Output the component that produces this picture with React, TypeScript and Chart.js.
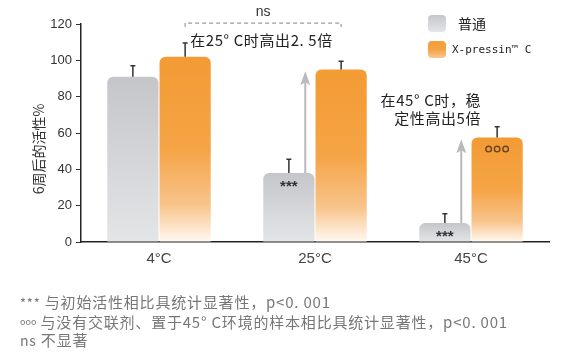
import React, { useEffect, useRef } from 'react';
import { Chart, registerables } from 'chart.js';

Chart.register(...registerables);

const categories = ['4°C', '25°C', '45°C'];
const seriesNames = ['普通', 'X-pressin™ C'];
const normalValues = [91, 38, 10.5];
const normalErrors = [6, 7.5, 5];
const xpressinValues = [102, 95, 57.5];
const xpressinErrors = [7.5, 4.5, 6];
const yTicks = [0, 20, 40, 60, 80, 100, 120];
const yTitle = '6周后的活性%';
const note25 = '在25° C时高出2. 5倍';
const note45a = '在45° C时，稳';
const note45b = '定性高出5倍';
const footnotes = [
  ['***', ' 与初始活性相比具统计显著性，p<0. 001'],
  ['ooo', ' 与没有交联剂、置于45° C环境的样本相比具统计显著性，p<0. 001'],
  ['ns', ' 不显著'],
];

const CJK = '"Noto Sans CJK SC", "Noto Sans", sans-serif';
const SANS = '"Liberation Sans", Arial, sans-serif';

function grayGradient(ctx: CanvasRenderingContext2D, top: number, bottom: number) {
  const g = ctx.createLinearGradient(0, top, 0, bottom);
  g.addColorStop(0, '#c4c6c9');
  g.addColorStop(1, '#e4e5e7');
  return g;
}
function orangeGradient(ctx: CanvasRenderingContext2D, top: number, bottom: number) {
  const g = ctx.createLinearGradient(0, top, 0, bottom);
  g.addColorStop(0, '#f39b34');
  g.addColorStop(0.5, '#f5a446');
  g.addColorStop(0.8, '#f8c48b');
  g.addColorStop(1, '#fff9f2');
  return g;
}

const overlayPlugin = {
  id: 'overlay',
  afterDatasetsDraw(chart: any) {
    const ctx: CanvasRenderingContext2D = chart.ctx;
    const ys = chart.scales.y;
    const gray = chart.getDatasetMeta(0).data;
    const orange = chart.getDatasetMeta(1).data;
    ctx.save();

    // arrows
    [1, 2].forEach((i) => {
      const g = gray[i];
      const ax = g.x + g.width * 0.32;
      const y0 = g.y;
      const y1 = ys.getPixelForValue(xpressinValues[i] - 1);
      ctx.strokeStyle = '#b9b9bc';
      ctx.lineWidth = 2;
      ctx.beginPath();
      ctx.moveTo(ax, y0);
      ctx.lineTo(ax, y1 + 10);
      ctx.stroke();
      ctx.fillStyle = '#b9b9bc';
      ctx.beginPath();
      ctx.moveTo(ax, y1);
      ctx.lineTo(ax + 5, y1 + 14);
      ctx.lineTo(ax, y1 + 11);
      ctx.lineTo(ax - 5, y1 + 14);
      ctx.closePath();
      ctx.fill();
    });

    // error bars
    const drawErr = (els: any[], vals: number[], errs: number[]) => {
      els.forEach((el, i) => {
        const top = ys.getPixelForValue(vals[i] + errs[i]);
        ctx.strokeStyle = '#333';
        ctx.lineWidth = 1.5;
        ctx.beginPath();
        ctx.moveTo(el.x, el.y);
        ctx.lineTo(el.x, top);
        ctx.moveTo(el.x - 2.5, top);
        ctx.lineTo(el.x + 2.5, top);
        ctx.stroke();
      });
    };
    drawErr(gray, normalValues, normalErrors);
    drawErr(orange, xpressinValues, xpressinErrors);

    // *** markers in gray bars
    ctx.fillStyle = '#333';
    ctx.font = `bold 15px ${SANS}`;
    ctx.textAlign = 'center';
    ctx.textBaseline = 'middle';
    [1, 2].forEach((i) => {
      const g = gray[i];
      ctx.fillText('***', g.x, g.y + 14);
    });

    // ooo in orange 45
    const o = orange[2];
    ctx.strokeStyle = '#6b4420';
    ctx.lineWidth = 1.4;
    [-8.5, 0, 8.5].forEach((dx) => {
      ctx.beginPath();
      ctx.arc(o.x + dx, o.y + 11.5, 2.8, 0, Math.PI * 2);
      ctx.stroke();
    });

    // ns bracket
    const bx0 = orange[0].x;
    const bx1 = orange[1].x;
    const by = ys.getPixelForValue(120.5);
    ctx.strokeStyle = '#9a9a9a';
    ctx.lineWidth = 1.2;
    ctx.setLineDash([4, 3]);
    ctx.beginPath();
    ctx.moveTo(bx0, by + 4);
    ctx.lineTo(bx0, by);
    ctx.lineTo(bx1, by);
    ctx.lineTo(bx1, by + 4);
    ctx.stroke();
    ctx.setLineDash([]);
    ctx.fillStyle = '#333';
    ctx.font = `14px ${SANS}`;
    ctx.textAlign = 'center';
    ctx.textBaseline = 'middle';
    ctx.fillText('ns', (bx0 + bx1) / 2, by - 11);

    // annotations
    ctx.fillStyle = '#222';
    ctx.font = `15px ${CJK}`;
    (ctx as any).letterSpacing = '0.6px';
    ctx.textAlign = 'left';
    ctx.fillText(note25, bx0 + 5, ys.getPixelForValue(111));
    ctx.textAlign = 'right';
    ctx.fillText(note45a, o.x - 16, ys.getPixelForValue(78));
    ctx.fillText(note45b, o.x - 16, ys.getPixelForValue(68));
    (ctx as any).letterSpacing = '0px';

    // y title
    ctx.save();
    ctx.translate(39, (chart.chartArea.top + chart.chartArea.bottom) / 2 + 16);
    ctx.rotate(-Math.PI / 2);
    ctx.textAlign = 'center';
    ctx.textBaseline = 'middle';
    ctx.fillStyle = '#333';
    ctx.font = `14px ${CJK}`;
    ctx.fillText(yTitle, 0, 0);
    ctx.restore();

    // legend
    const lx = 428;
    const items = [
      { y: 15, grad: grayGradient(ctx, 15, 32), font: `14px ${CJK}`, tx: 458 },
      { y: 41, grad: orangeGradient(ctx, 38, 62), font: `11px "DejaVu Sans Mono", monospace`, tx: 452 },
    ];
    items.forEach((it, i) => {
      ctx.fillStyle = it.grad;
      ctx.beginPath();
      (ctx as any).roundRect(lx, it.y, 18, 17, 4);
      ctx.fill();
      ctx.fillStyle = '#222';
      ctx.font = it.font;
      ctx.textAlign = 'left';
      ctx.textBaseline = 'middle';
      ctx.fillText(seriesNames[i], it.tx, it.y + 9);
    });

    ctx.restore();
  },
};

export default function App() {
  const ref = useRef<HTMLCanvasElement>(null);
  useEffect(() => {
    if (!ref.current) return;
    const chart = new Chart(ref.current, {
      type: 'bar',
      data: {
        labels: categories,
        datasets: [
          {
            label: seriesNames[0],
            data: normalValues,
            backgroundColor: (c: any) => {
              const a = c.chart.chartArea;
              if (!a || c.raw == null) return '#d0d2d4';
              return grayGradient(c.chart.ctx, c.chart.scales.y.getPixelForValue(c.raw), a.bottom);
            },
            borderRadius: 6,
            categoryPercentage: 0.67,
            barPercentage: 0.98,
          },
          {
            label: seriesNames[1],
            data: xpressinValues,
            backgroundColor: (c: any) => {
              const a = c.chart.chartArea;
              if (!a || c.raw == null) return '#f5a446';
              return orangeGradient(c.chart.ctx, c.chart.scales.y.getPixelForValue(c.raw), a.bottom);
            },
            borderRadius: 6,
            categoryPercentage: 0.67,
            barPercentage: 0.98,
          },
        ],
      },
      options: {
        animation: false,
        responsive: false,
        maintainAspectRatio: false,
        layout: { padding: { left: 0, right: 16, top: 24, bottom: 84 } },
        plugins: { legend: { display: false }, tooltip: { enabled: false } },
        scales: {
          x: {
            grid: { display: false, drawTicks: false },
            border: { display: true, color: '#222', width: 1.5 },
            ticks: { font: { size: 15, family: SANS }, color: '#444', padding: 8 },
            afterFit: (s: any) => {
              s.height = 30;
            },
          },
          y: {
            min: 0,
            max: 120,
            afterBuildTicks: (s: any) => {
              s.ticks = yTicks.map((v) => ({ value: v }));
            },
            ticks: { font: { size: 13, family: SANS }, color: '#333', padding: 4 },
            grid: { drawOnChartArea: false, drawTicks: true, tickLength: 5, color: '#333' },
            border: { color: '#222', width: 1.5 },
            afterFit: (s: any) => {
              s.width = 81;
            },
          },
        },
      } as any,
      plugins: [overlayPlugin],
    });
    return () => chart.destroy();
  }, []);

  return (
    <div style={{ position: 'fixed', left: 0, top: 0, width: 565, height: 356, background: '#fff' }}>
      <canvas ref={ref} width={565} height={356} style={{ display: 'block' }} />
      <div
        style={{
          position: 'absolute',
          left: 20,
          top: 293,
          fontFamily: CJK,
          fontSize: 15,
          lineHeight: '18.5px',
          letterSpacing: '0.8px',
          color: '#777',
          whiteSpace: 'nowrap',
        }}
      >
        {footnotes.map((f, i) => (
          <div key={i}>
            <span style={{ fontSize: i === 1 ? 9 : i === 0 ? 13 : 14, letterSpacing: i === 1 ? '0px' : undefined, verticalAlign: i === 1 ? '3px' : undefined }}>{f[0]}</span>
            {f[1]}
          </div>
        ))}
      </div>
    </div>
  );
}
